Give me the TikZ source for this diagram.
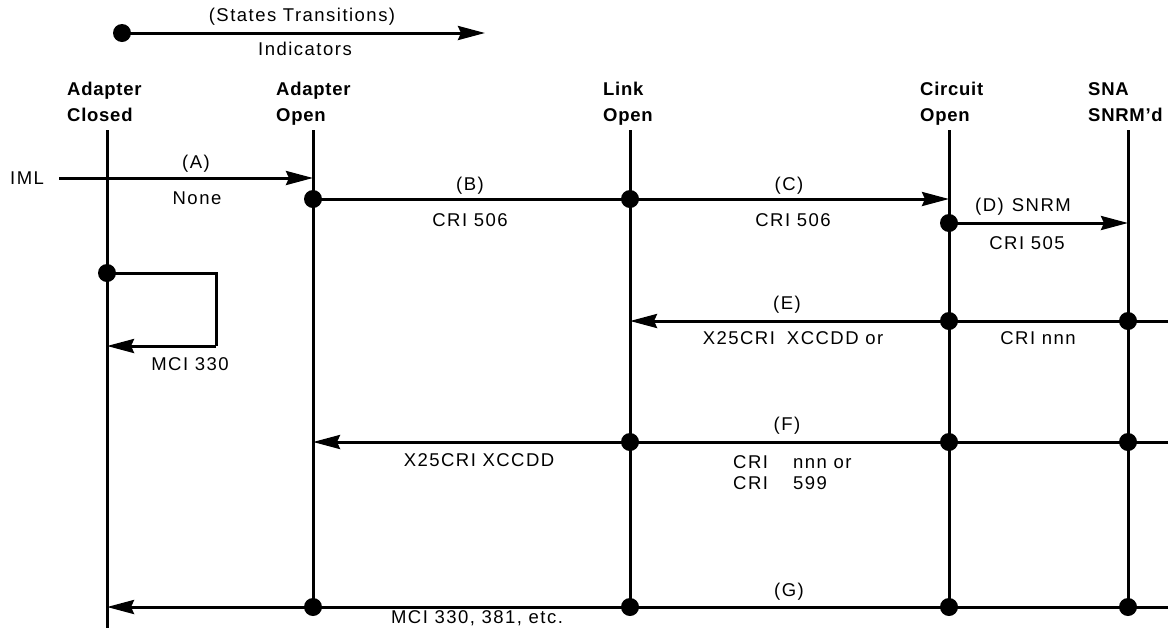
\documentclass[tikz,border=0pt]{standalone}
\usepackage{fontspec}
\setmainfont{Liberation Sans}[LetterSpace=8,BoldFeatures={LetterSpace=4}]
\usetikzlibrary{arrows.meta}
\begin{document}
\begin{tikzpicture}[x=1pt,y=-1pt,
  lane/.style={line width=3pt},
  flow/.style={line width=3pt,-{Stealth[length=27pt,width=14pt,inset=3pt]}},
  dot/.style={circle,fill=black,inner sep=0pt,minimum size=18pt},
  lbl/.style={inner sep=0pt,anchor=base,font=\fontsize{18.5}{21}\selectfont},
  head/.style={inner sep=0pt,anchor=north west,align=left,font=\bfseries\fontsize{18.5}{26}\selectfont}]
\path[use as bounding box] (0,0) rectangle (1173,638);

% legend
\node[dot] (legdot) at (122,33) {};
\coordinate (legtip) at (485,33);
\draw[flow] (legdot.center) -- (legtip);
\node[lbl] (legtop) at (302,21) {(States Transitions)};
\node[lbl] (legbot) at (305,55) {Indicators};

% headers
\node[head] (hAC) at (67,82) {Adapter\\Closed};
\node[head] (hAO) at (276,82) {Adapter\\Open};
\node[head] (hLO) at (603,82) {Link\\Open};
\node[head] (hCO) at (920,82) {Circuit\\Open};
\node[head] (hSN) at (1088,82) {SNA\\SNRM'd};

% lifelines
\coordinate (ACt) at (107,130); \coordinate (ACb) at (107,628);
\coordinate (AOt) at (313,130); \coordinate (AOb) at (313,607);
\coordinate (LOt) at (630,130); \coordinate (LOb) at (630,607);
\coordinate (COt) at (949,130); \coordinate (COb) at (949,607);
\coordinate (SNt) at (1128,130); \coordinate (SNb) at (1128,607);
\draw[lane] (ACt) -- (ACb);
\draw[lane] (AOt) -- (AOb);
\draw[lane] (LOt) -- (LOb);
\draw[lane] (COt) -- (COb);
\draw[lane] (SNt) -- (SNb);

% (A)
\node[lbl,anchor=base west] (iml) at (10,184) {IML};
\coordinate (aStart) at (59,178);
\coordinate (aAO) at (313,178);
\draw[flow] (aStart) -- (aAO);
\node[lbl] (aTop) at (196,168) {(A)};
\node[lbl] (aBot) at (197,204) {None};

% (B) and (C)
\node[dot] (bAO) at (313,199) {};
\node[dot] (bLO) at (630,199) {};
\coordinate (cCO) at (949,199);
\draw[lane] (bAO.center) -- (bLO.center);
\draw[flow] (bLO.center) -- (cCO);
\node[lbl] (bTop) at (470,190) {(B)};
\node[lbl] (bBot) at (470,226) {CRI 506};
\node[lbl] (cTop) at (789,190) {(C)};
\node[lbl] (cBot) at (793,226) {CRI 506};

% (D)
\node[dot] (dCO) at (949,223) {};
\coordinate (dSN) at (1128,223);
\draw[flow] (dCO.center) -- (dSN);
\node[lbl] (dTop) at (1023,211) {(D)\hspace{8pt}SNRM};
\node[lbl] (dBot) at (1027,249) {CRI 505};

% self loop
\node[dot] (lAC) at (107,273) {};
\coordinate (lR1) at (216,273);
\coordinate (lR2) at (216,346);
\coordinate (lAC2) at (107,346);
\draw[lane] (lAC.center) -- (lR1) -- (lR2);
\draw[flow] (lR2) -- (lAC2);
\node[lbl] (lLbl) at (190,370) {MCI 330};

% (E)
\coordinate (eR) at (1168,321);
\node[dot] (eSN) at (1128,321) {};
\node[dot] (eCO) at (949,321) {};
\coordinate (eLO) at (630,321);
\draw[lane] (eR) -- (eSN.center) -- (eCO.center);
\draw[flow] (eCO.center) -- (eLO);
\node[lbl] (eTop) at (787,309) {(E)};
\node[lbl] (eBot) at (793,344) {X25CRI\hspace{12pt}XCCDD or};
\node[lbl] (eBot2) at (1038,344) {CRI nnn};

% (F)
\coordinate (fR) at (1168,442);
\node[dot] (fSN) at (1128,442) {};
\node[dot] (fCO) at (949,442) {};
\node[dot] (fLO) at (630,442) {};
\coordinate (fAO) at (313,442);
\draw[lane] (fR) -- (fSN.center) -- (fCO.center) -- (fLO.center);
\draw[flow] (fLO.center) -- (fAO);
\node[lbl] (fTop) at (787,430) {(F)};
\node[lbl] (fLeft) at (479,466) {X25CRI XCCDD};
\node[lbl,anchor=north west,align=left] (fRight) at (733,455)
  {\makebox[60pt][l]{CRI}nnn or\\\makebox[60pt][l]{CRI}599};

% (G)
\coordinate (gR) at (1168,607);
\node[dot] (gSN) at (1128,607) {};
\node[dot] (gCO) at (949,607) {};
\node[dot] (gLO) at (630,607) {};
\node[dot] (gAO) at (313,607) {};
\coordinate (gAC) at (107,607);
\draw[lane] (gR) -- (gSN.center) -- (gCO.center) -- (gLO.center) -- (gAO.center);
\draw[flow] (gAO.center) -- (gAC);
\node[lbl] (gTop) at (789,596) {(G)};
\node[lbl] (gBot) at (477,623) {MCI 330, 381, etc.};
\end{tikzpicture}
\end{document}
